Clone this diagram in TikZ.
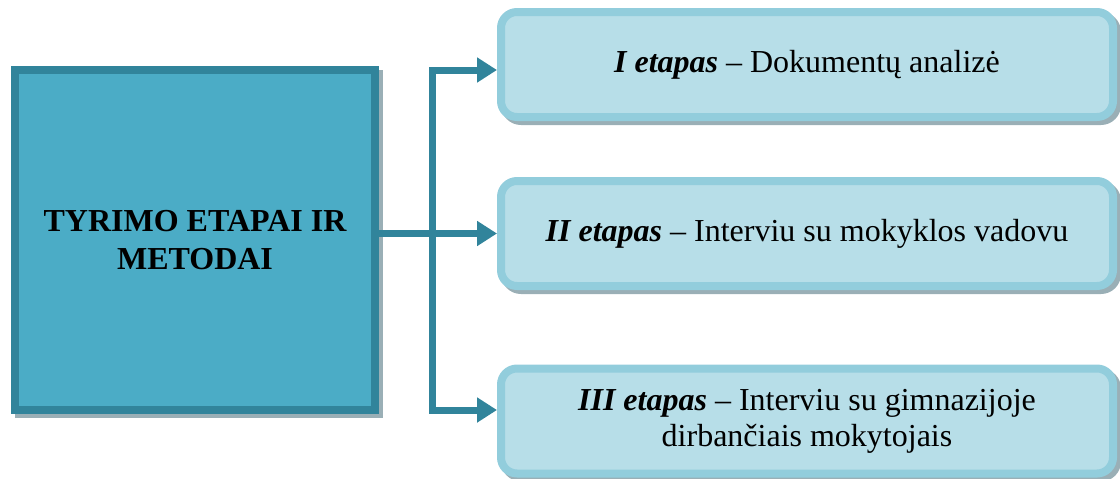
\documentclass[tikz,border=0pt]{standalone}
\usepackage{fontspec}
\setmainfont{LiberationSerif}[
  Extension=.ttf,
  UprightFont=*-Regular,
  BoldFont=*-Bold,
  ItalicFont=*-Italic,
  BoldItalicFont=*-BoldItalic]
\usetikzlibrary{arrows.meta,shadows}

\definecolor{tealdark}{HTML}{31849B}
\definecolor{tealmid}{HTML}{4BACC6}
\definecolor{teallight}{HTML}{B7DEE8}
\definecolor{tealedge}{HTML}{92CDDC}
\definecolor{shade}{HTML}{9AAFB6}

\begin{document}
\begin{tikzpicture}[x=1pt,y=-1pt,
  boxshadow/.style={drop shadow={shadow xshift=4pt, shadow yshift=-4pt,
      fill=shade, draw=shade, line width=8pt, opacity=1}},
  mainbox/.style={draw=tealdark, fill=tealmid, line width=8pt,
      minimum width=360pt, minimum height=340pt, align=center,
      font=\fontsize{32}{38}\selectfont\bfseries, boxshadow},
  stagebox/.style={draw=tealedge, fill=teallight, line width=8pt,
      rounded corners=16pt, minimum width=612pt, minimum height=105pt,
      align=center, font=\fontsize{32}{36}\selectfont, boxshadow},
  link/.style={draw=tealdark, line width=7pt, line join=miter},
  linkarrow/.style={link, -{Triangle[length=20pt,width=24pt]}}
]
\useasboundingbox (0,0) rectangle (1120,479);

% main box on the left
\node[mainbox] (main) at (195,240) {TYRIMO ETAPAI IR\\METODAI};

% the three stages
\node[stagebox] (s1) at (807,64.5)
  {\textbf{\textit{I etapas}} -- Dokumentų analizė};
\node[stagebox] (s2) at (807,233.5)
  {\textbf{\textit{II etapas}} -- Interviu su mokyklos vadovu};
\node[stagebox] (s3) at (807,421)
  {\textbf{\textit{III etapas}} -- Interviu su gimnazijoje\\dirbančiais mokytojais};

% connectors
\path (s2.west) ++(-65,0) coordinate (fork);
\coordinate (upper) at (432,70);
\coordinate (lower) at (432,410);
\draw[linkarrow] (main.east |- s2.west) -- (s2.west);
\draw[linkarrow] (fork) |- (s1.west |- upper);
\draw[linkarrow] (fork) |- (s3.west |- lower);
\end{tikzpicture}
\end{document}
